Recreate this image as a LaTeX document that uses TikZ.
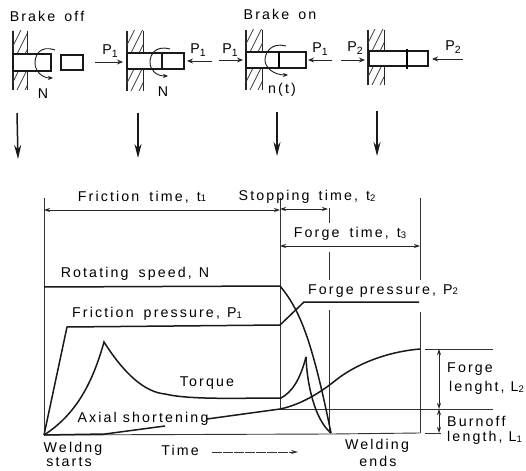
\documentclass[tikz,border=0pt]{standalone}
\usepackage{fontspec}
\setmainfont[LetterSpace=15]{Liberation Sans}
\usetikzlibrary{arrows.meta}
\newcommand{\sbs}[1]{\raisebox{-0.3ex}{\fontsize{10.5}{11}\selectfont #1}}
\newcommand{\lsb}[1]{\raisebox{-0.05ex}{\fontsize{9.5}{10}\selectfont #1}}
\newcommand{\wallhatch}[6]{%
 \draw[wallline] (#1,#3) -- (#1,#6);
 \draw[thin1] (#2,#3) -- (#2,#4) (#2,#5) -- (#2,#6);
 \begin{scope}
 \clip (#1,#3) rectangle (#2,#4);
 \foreach \k in {-60,-52,...,60} {\draw[hatchline] (#1+\k,#4) -- ++(30,-60);}
 \end{scope}
 \begin{scope}
 \clip (#1,#5) rectangle (#2,#6);
 \foreach \k in {-60,-52,...,60} {\draw[hatchline] (#1+\k,#6) -- ++(30,-60);}
 \end{scope}
}
\tikzset{
 x=1pt,y=-1pt,
 thin1/.style={line width=1pt,black!85},
 wallline/.style={line width=1.4pt,black!85},
 hatchline/.style={line width=.7pt,black!75},
 barline/.style={line width=1.5pt,black!90},
 curve/.style={line width=1.5pt,black!90},
 thinv/.style={line width=.9pt,black!80},
 push/.style={line width=.9pt,black!85,-{Stealth[length=6pt,width=5pt]}},
 dim/.style={line width=.9pt,black!85,{Stealth[length=6pt,width=4pt]}-{Stealth[length=6pt,width=4pt]}},
 down/.style={line width=1.5pt,black!90,-{Stealth[length=14pt,width=7pt]}},
 spin/.style={line width=.9pt,black!90,-{Stealth[length=5pt,width=4pt]}},
 lbl/.style={inner sep=0pt,font=\fontsize{14.2}{15}\selectfont,anchor=center},
}
\begin{document}
\begin{tikzpicture}
\useasboundingbox[fill=white] (0,0) rectangle (526,470);
\wallhatch{13}{27}{31}{54}{71}{90}
\wallhatch{127}{143}{31}{53}{69}{91}
\wallhatch{246}{262}{30}{52}{68}{90}
\wallhatch{368}{384}{30}{51}{66}{85}
\draw[barline] (13,54) rectangle (51,71);
\draw[barline] (61,55) rectangle (83,70);
\draw[barline] (127,53) rectangle (184,69);
\draw[barline] (162,53) -- (162,69);
\draw[barline] (246,52) rectangle (306,68);
\draw[line width=2pt] (279,52) -- (279,68);
\draw[barline] (369,51) rectangle (428,66);
\draw[line width=2.4pt] (407,49) -- (407,69);
% spin arrows
\coordinate (s1a) at (55,50); \coordinate (s1b) at (53,78);
\draw[spin] (s1a) .. controls (40,45) and (35,55) .. (35,63) .. controls (35,71) and (42,78) .. (s1b);
\coordinate (s2a) at (170,49); \coordinate (s2b) at (168,76);
\draw[spin] (s2a) .. controls (155,45) and (150,55) .. (150,62) .. controls (150,70) and (156,76) .. (s2b);
\coordinate (s3a) at (286,46); \coordinate (s3b) at (288,75);
\draw[spin] (s3a) .. controls (272,42) and (265,52) .. (265,60) .. controls (265,68) and (274,75) .. (s3b);
% push arrows
\coordinate (p1a) at (95,62); \coordinate (p1b) at (123,62);
\coordinate (p2a) at (212,61); \coordinate (p2b) at (187,61);
\coordinate (p3a) at (219,60); \coordinate (p3b) at (243,60);
\coordinate (p4a) at (332,60); \coordinate (p4b) at (308,60);
\coordinate (p5a) at (341,60); \coordinate (p5b) at (365,60);
\coordinate (p6a) at (463,59); \coordinate (p6b) at (432,59);
\foreach \n in {1,...,6} {\draw[push] (p\n a) -- (p\n b);}
% down arrows
\coordinate (d1a) at (17,113); \coordinate (d1b) at (18,159);
\coordinate (d2a) at (138,113); \coordinate (d2b) at (138,158);
\coordinate (d3a) at (277,112); \coordinate (d3b) at (277,156);
\coordinate (d4a) at (377,111); \coordinate (d4b) at (377,156);
\foreach \n in {1,...,4} {\draw[down] (d\n a) -- (d\n b);}
% top labels
\node[lbl] (t1) at (47,16) {Brake\hspace{3pt} off};
\node[lbl] (t2) at (280,14) {Brake\hspace{3pt} on};
\node[lbl] (n1) at (43,94) {N};
\node[lbl] (n2) at (163,92) {N};
\node[lbl] (n3) at (282,90) {n(t)};
\node[lbl] (l1) at (110,51) {P\sbs{1}};
\node[lbl] (l2) at (198,50) {P\sbs{1}};
\node[lbl] (l3) at (230,50) {P\sbs{1}};
\node[lbl] (l4) at (320,49) {P\sbs{1}};
\node[lbl] (l5) at (355,48) {P\sbs{2}};
\node[lbl] (l6) at (453,47) {P\sbs{2}};
% chart frame
\draw[thinv] (44,198) -- (44,435);
\draw[thinv] (280,198) -- (280,409);
\draw[thinv] (329,208) -- (329,223) (329,252) -- (329,280) (329,310) -- (329,433);
\draw[thinv] (420,198) -- (420,280) (420,312) -- (420,433);
\draw[thinv] (44,435) -- (331,434) -- (420,433);
\draw[thinv] (425,433) -- (441,433);
\draw[thinv] (425,349) -- (493,349);
\draw[thinv] (280,409) -- (493,409);
% dimension arrows
\coordinate (a0) at (44,210); \coordinate (a1) at (280,210);
\coordinate (b0) at (280,209); \coordinate (b1) at (328,209);
\coordinate (c0) at (280,246); \coordinate (c1) at (420,246);
\coordinate (e0) at (439,349); \coordinate (e1) at (439,409); \coordinate (e2) at (439,433);
\draw[dim] (a0) -- (a1);
\draw[dim] (b0) -- (b1);
\draw[dim] (c0) -- (c1);
\draw[dim] (e0) -- (e1);
\draw[dim] (e1) -- (e2);
% curves
\draw[curve] (44,287) -- (280,286) .. controls (300,310) and (312,340) .. (331,433);
\draw[curve] (44,435) -- (67,327) -- (280,325) -- (304,302) -- (419,302);
\draw[curve] (44,435) .. controls (75,415) and (92,385) .. (104,342) .. controls (125,375) and (145,392) .. (165,394) .. controls (190,400) and (240,398) .. (281,398) .. controls (292,392) and (300,380) .. (306,357);
\draw[curve] (306,357) .. controls (307,385) and (315,420) .. (331,433);
\draw[curve] (44,435) -- (105,434) -- (165,426);
\draw[curve] (207,419) -- (280,409) .. controls (300,405) and (320,393) .. (336,380) .. controls (355,365) and (385,352) .. (420,349);
% time arrow
\coordinate (ta) at (212,452); \coordinate (tb) at (298,452);
\draw[line width=.7pt,black!80,dash pattern=on 10pt off 1pt,-{Stealth[length=7pt,width=4pt]}] (ta) -- (tb);
% labels
\node[lbl] (x1) at (142,197) {Friction\hspace{4pt} time,\hspace{2pt} t\lsb{1}};
\node[lbl] (x2) at (307,197) {Stopping\hspace{3pt} time,\hspace{2pt} t\lsb{2}};
\node[lbl] (x3) at (350,234) {Forge\hspace{4pt} time,\hspace{2pt} t\lsb{3}};
\node[lbl] (x4) at (135,274) {Rotating\hspace{4pt} speed,\hspace{1pt} N};
\node[lbl] (x5) at (157,314) {Friction\hspace{4pt} pressure,\hspace{1pt} P\lsb{1}};
\node[lbl] (x6) at (207,383) {Torque};
\node[lbl] (x7) at (143,419) {Axial shortening};
\node[lbl] (x8) at (383,291) {Forge pressure,\hspace{1pt} P\lsb{2}};
\node[lbl,anchor=west] (x9) at (447,369) {Forge};
\node[lbl,anchor=west] (x10) at (449,388) {lenght, L\lsb{2}};
\node[lbl,anchor=west] (x11) at (447,421) {Burnoff};
\node[lbl,anchor=west] (x12) at (447,438) {length, L\lsb{1}};
\node[lbl] (x13) at (73,449) {Weldng};
\node[lbl] (x14) at (69,462) {starts};
\node[lbl] (x15) at (180,450) {Time};
\node[lbl] (x16) at (377,446) {Welding};
\node[lbl] (x17) at (378,461) {ends};
\end{tikzpicture}
\end{document}
